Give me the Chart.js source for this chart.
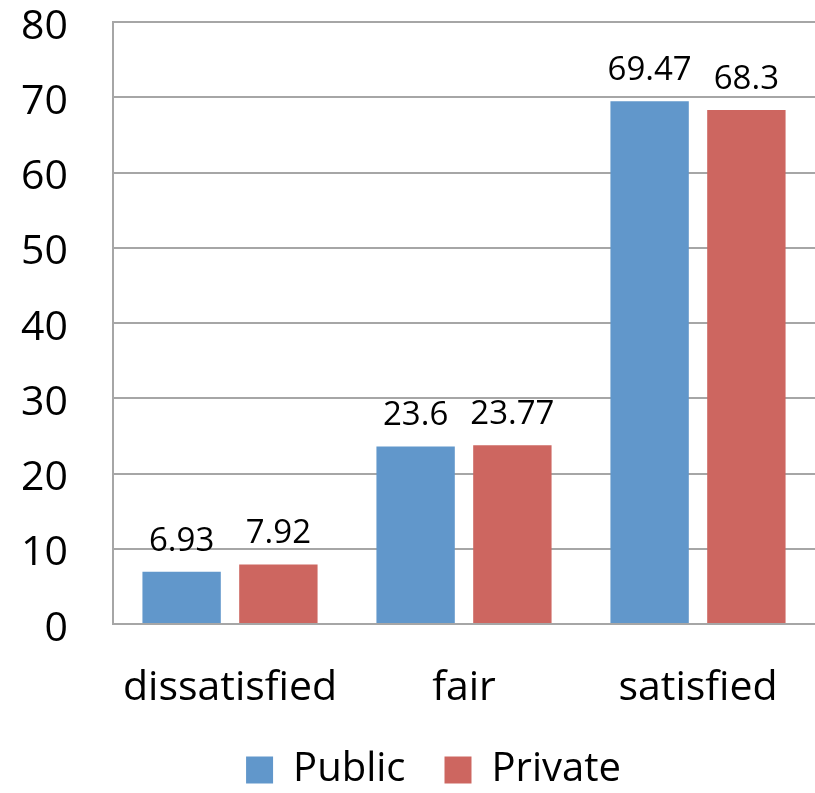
<!DOCTYPE html>
<html>
<head>
<meta charset="utf-8">
<script src="https://cdn.jsdelivr.net/npm/chart.js@4/dist/chart.umd.min.js"></script>
<style>
  html, body { margin: 0; padding: 0; background: #fff; }
  #wrap { width: 815px; height: 793px; }
</style>
</head>
<body>
<div id="wrap"><canvas id="c" width="815" height="793"></canvas></div>
<script>
// Satisfaction levels by sector (%)
const categories = ['dissatisfied', 'fair', 'satisfied'];
const publicValues = [6.93, 23.6, 69.47];
const privateValues = [7.92, 23.77, 68.3];
const seriesNames = ['Public', 'Private'];
const yTicks = [0, 10, 20, 30, 40, 50, 60, 70, 80];

const FONT = "'Open Sans', sans-serif";

// Writes each bar's value above it
const valueLabels = {
  id: 'valueLabels',
  afterDatasetsDraw(chart) {
    const ctx = chart.ctx;
    ctx.save();
    ctx.font = "33px " + FONT;
    ctx.fillStyle = '#000';
    ctx.textAlign = 'center';
    ctx.textBaseline = 'alphabetic';
    chart.data.datasets.forEach((ds, i) => {
      chart.getDatasetMeta(i).data.forEach((bar, j) => {
        ctx.fillText(String(ds.data[j]), bar.x, bar.y - 21);
      });
    });
    ctx.restore();
  }
};

// Nudges the legend a little to the right of the canvas centre
const legendShift = {
  id: 'legendShift',
  afterLayout(chart) {
    const lg = chart.legend;
    if (lg) { lg.left += 26; lg.right += 26; }
  }
};

new Chart(document.getElementById('c'), {
  type: 'bar',
  data: {
    labels: categories,
    datasets: [
      { label: seriesNames[0], data: publicValues, backgroundColor: '#6197CB' },
      { label: seriesNames[1], data: privateValues, backgroundColor: '#CD6660' }
    ]
  },
  options: {
    responsive: false,
    animation: false,
    layout: { padding: { top: 0, right: 0, left: 0, bottom: -7 } },
    datasets: { bar: { categoryPercentage: 0.827, barPercentage: 0.81 } },
    plugins: {
      tooltip: { enabled: false },
      legend: {
        position: 'bottom',
        labels: {
          font: { family: FONT, size: 40 },
          color: '#000',
          boxWidth: 27,
          boxHeight: 27,
          padding: 39
        }
      }
    },
    scales: {
      x: {
        grid: { display: false, drawTicks: false },
        border: { display: true, color: '#A6A6A6', width: 2 },
        ticks: { font: { family: FONT, size: 41 }, color: '#000', padding: 40 },
        afterFit(scale) {
          scale.height = 87;
          scale.paddingLeft = 0;
          scale.paddingRight = 0;
        }
      },
      y: {
        min: 0,
        max: 80,
        afterBuildTicks(scale) { scale.ticks = yTicks.map(v => ({ value: v })); },
        grid: { color: '#A6A6A6', lineWidth: 2, drawTicks: false },
        border: { display: true, color: '#A6A6A6', width: 2 },
        ticks: { font: { family: FONT, size: 41 }, color: '#000', padding: 45, labelOffset: 5 },
        afterFit(scale) {
          scale.width = 113;
          scale.paddingTop = 22;
          scale.paddingBottom = 0;
        }
      }
    }
  },
  plugins: [valueLabels, legendShift]
});
</script>
</body>
</html>
